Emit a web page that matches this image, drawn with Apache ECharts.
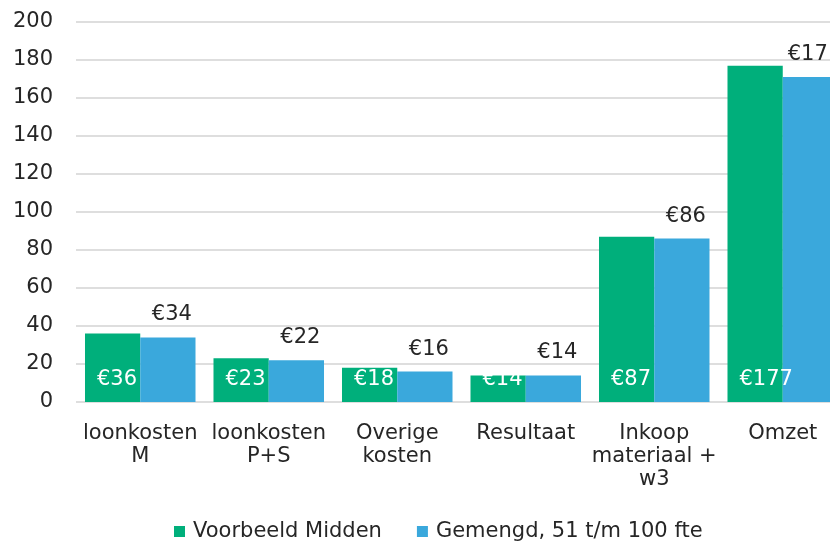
<!DOCTYPE html>
<html>
<head>
<meta charset="utf-8">
<script src="https://cdn.jsdelivr.net/npm/echarts@6/dist/echarts.min.js"></script>
<style>
  html, body { margin: 0; padding: 0; background: #fff; }
  #chart { width: 830px; height: 543px; }
</style>
</head>
<body>
<div id="chart"></div>
<script>
const categories = ['loonkosten\nM', 'loonkosten\nP+S', 'Overige\nkosten', 'Resultaat', 'Inkoop\nmateriaal +\nw3', 'Omzet'];
const voorbeeldMidden = [36, 23, 18, 14, 87, 177];
const gemengd = [34, 22, 16, 14, 86, 171];

const chart = echarts.init(document.getElementById('chart'));
const font = 'DejaVu Sans, Arial, sans-serif';

const option = {
  animation: false,
  textStyle: { fontFamily: font },
  // the plot runs past the right edge in the original, Omzet gets cut off
  grid: { left: 76, width: 771, top: 22, bottom: 141, outerBoundsMode: 'none' },
  legend: {
    top: 521,
    left: 174,
    padding: 0,
    itemWidth: 11,
    itemHeight: 11,
    itemGap: 35,
    icon: 'rect',
    textStyle: { fontSize: 21, color: '#262626', fontFamily: font, padding: [0, 0, 0, 3] },
    data: ['Voorbeeld Midden', 'Gemengd, 51 t/m 100 fte']
  },
  xAxis: {
    type: 'category',
    data: categories,
    axisLine: { show: false },
    axisTick: { show: false },
    axisLabel: {
      interval: 0,
      fontSize: 21,
      lineHeight: 23,
      color: '#262626',
      margin: 20,
      fontFamily: font
    }
  },
  yAxis: {
    type: 'value',
    min: 0,
    max: 200,
    interval: 20,
    axisLine: { show: false },
    axisTick: { show: false },
    axisLabel: { fontSize: 21, color: '#262626', margin: 23, fontFamily: font },
    splitLine: { lineStyle: { color: '#dedede', width: 2 } }
  },
  series: [
    {
      name: 'Voorbeeld Midden',
      type: 'bar',
      data: voorbeeldMidden,
      barGap: '0%',
      barCategoryGap: '14%',
      itemStyle: { color: '#00af7b' },
      label: {
        show: true,
        position: 'insideBottomLeft',
        distance: 12,
        color: '#ffffff',
        fontSize: 21,
        fontFamily: font,
        formatter: p => '€' + p.value
      }
    },
    {
      name: 'Gemengd, 51 t/m 100 fte',
      type: 'bar',
      data: gemengd,
      itemStyle: { color: '#3aa8dc' },
      label: {
        show: true,
        position: 'top',
        distance: 12,
        offset: [4, 0],
        color: '#262626',
        fontSize: 21,
        fontFamily: font,
        formatter: p => '€' + p.value
      }
    }
  ]
};

chart.setOption(option);
</script>
</body>
</html>
